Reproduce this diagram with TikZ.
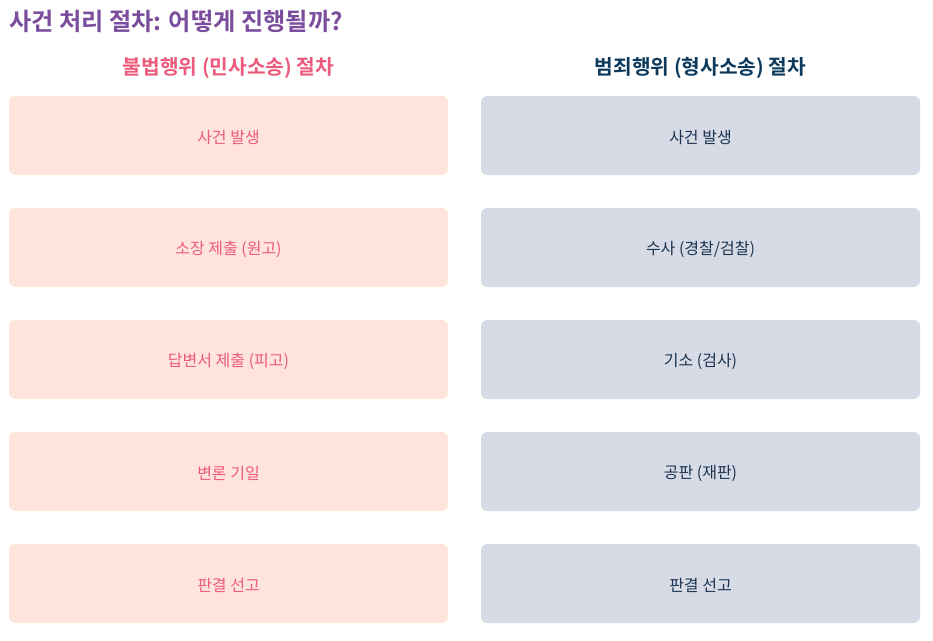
\documentclass[tikz,border=0pt]{standalone}
\usepackage{fontspec}
\setmainfont{Noto Sans CJK KR}
\newfontfamily\krbold{Noto Sans CJK KR Bold}
\definecolor{titlepurple}{HTML}{7A4E9C}
\definecolor{civilfill}{HTML}{FFE4DC}
\definecolor{civiltext}{HTML}{EC5A7C}
\definecolor{crimfill}{HTML}{D6DBE5}
\definecolor{crimtext}{HTML}{1C3350}
\definecolor{crimhead}{HTML}{0D3A5C}
\tikzset{
  x=1pt, y=-1pt,
  civilbox/.style={fill=civilfill, draw=none, rounded corners=6pt, minimum width=439pt, minimum height=79pt, inner sep=0pt},
  crimbox/.style={fill=crimfill, draw=none, rounded corners=6pt, minimum width=439pt, minimum height=79pt, inner sep=0pt},
  civillbl/.style={inner sep=0pt, text=civiltext, font=\fontsize{16}{18}\selectfont},
  crimlbl/.style={inner sep=0pt, text=crimtext, font=\fontsize{16}{18}\selectfont},
  headtext/.style={font=\krbold\fontsize{20.3}{22}\selectfont, inner sep=0pt},
}
\begin{document}
\begin{tikzpicture}
\useasboundingbox (0,0) rectangle (933,640);
\node[anchor=west, text=titlepurple, font=\krbold\fontsize{24.2}{26}\selectfont, inner sep=0pt] (title) at (9,21) {사건 처리 절차: 어떻게 진행될까?};
\node[headtext, text=civiltext] (hl) at (228.5,68) {불법행위 (민사소송) 절차};
\node[headtext, text=crimhead] (hr) at (700.5,68) {범죄행위 (형사소송) 절차};
\node[civilbox] (l1) at (228.5,135.5) {};
\node[civilbox] (l2) at (228.5,247.5) {};
\node[civilbox] (l3) at (228.5,359.5) {};
\node[civilbox] (l4) at (228.5,471.5) {};
\node[civilbox] (l5) at (228.5,583.5) {};
\node[crimbox] (r1) at (700.5,135.5) {};
\node[crimbox] (r2) at (700.5,247.5) {};
\node[crimbox] (r3) at (700.5,359.5) {};
\node[crimbox] (r4) at (700.5,471.5) {};
\node[crimbox] (r5) at (700.5,583.5) {};
\node[civillbl] (l1t) at ([yshift=-2pt]l1.center) {사건 발생};
\node[civillbl] (l2t) at ([yshift=-2pt]l2.center) {소장 제출 (원고)};
\node[civillbl] (l3t) at ([yshift=-2pt]l3.center) {답변서 제출 (피고)};
\node[civillbl] (l4t) at ([yshift=-2pt]l4.center) {변론 기일};
\node[civillbl] (l5t) at ([yshift=-2pt]l5.center) {판결 선고};
\node[crimlbl] (r1t) at ([yshift=-2pt]r1.center) {사건 발생};
\node[crimlbl] (r2t) at ([yshift=-2pt]r2.center) {수사 (경찰/검찰)};
\node[crimlbl] (r3t) at ([yshift=-2pt]r3.center) {기소 (검사)};
\node[crimlbl] (r4t) at ([yshift=-2pt]r4.center) {공판 (재판)};
\node[crimlbl] (r5t) at ([yshift=-2pt]r5.center) {판결 선고};
\end{tikzpicture}
\end{document}
